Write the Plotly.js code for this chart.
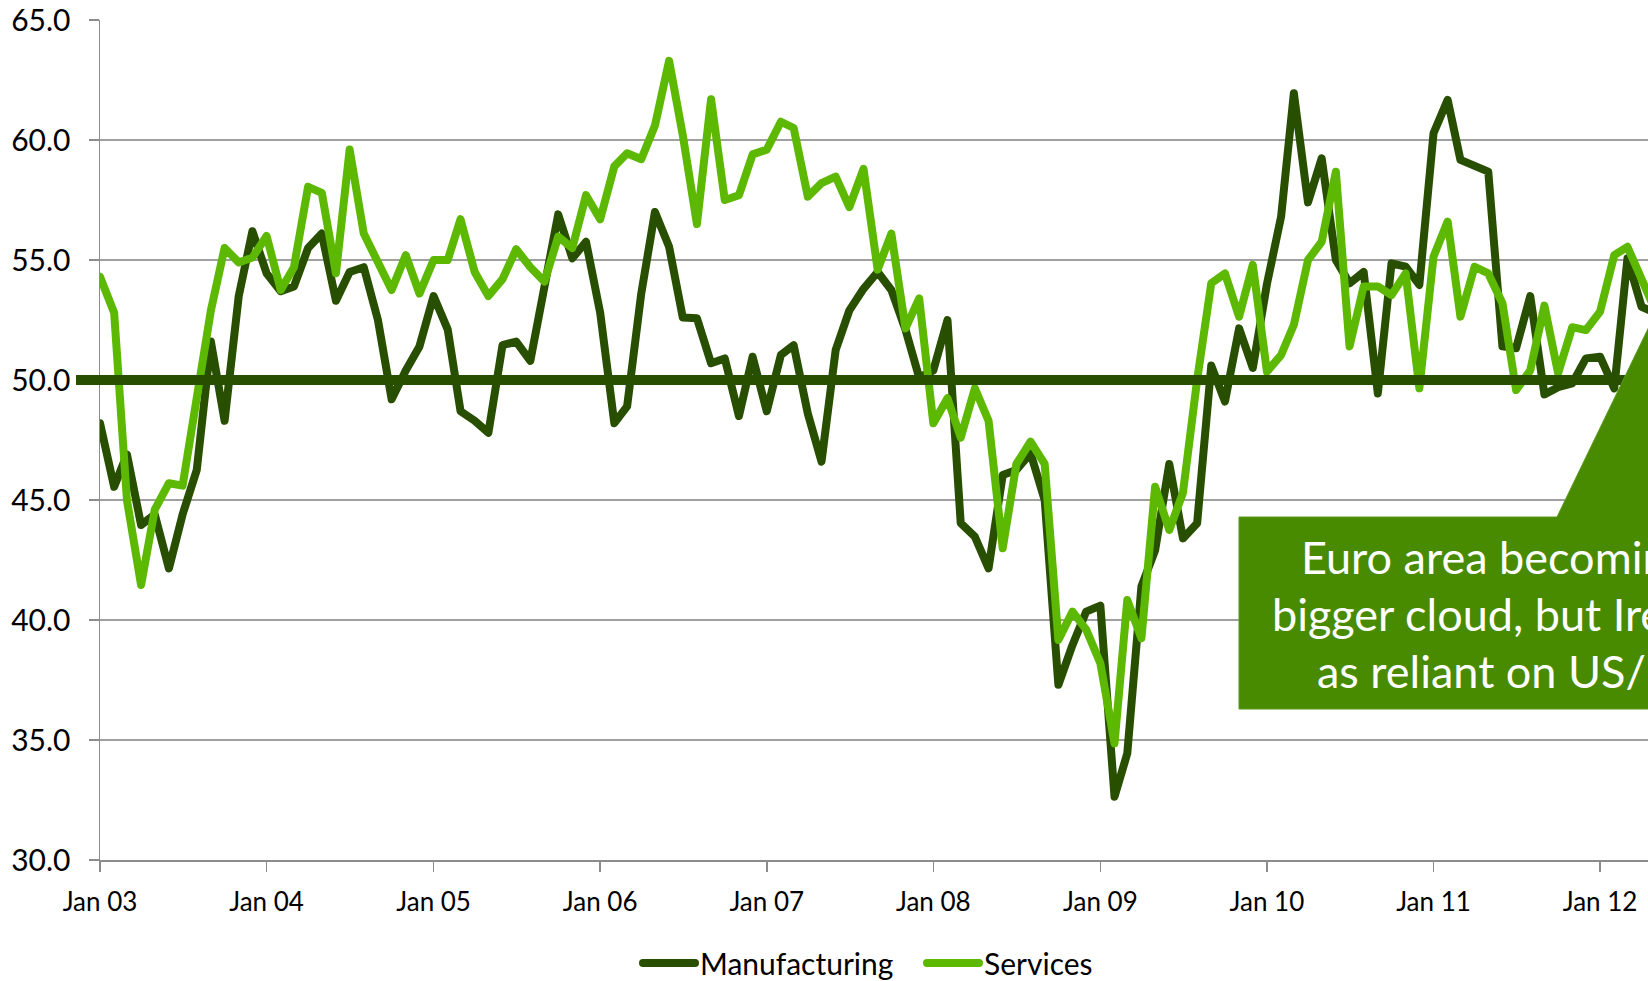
<!DOCTYPE html>
<html>
<head>
<meta charset="utf-8">
<script src="https://cdn.plot.ly/plotly-3.0.1.min.js"></script>
<style>
  html, body { margin: 0; padding: 0; background: #fff; overflow: hidden; }
  #chart { width: 1648px; height: 981px; }
  .scatterlayer path.js-line { stroke-linejoin: round; stroke-linecap: round; }
  .legendlines path { stroke-linecap: round; }
</style>
</head>
<body>
<div id="chart"></div>
<script>
// ---- data (monthly, Jan 2003 onwards) ----
const startYear = 2003;
const manufacturing = [
  48.2, 45.55, 46.9, 43.96, 44.4, 42.15, 44.4, 46.25, 51.6, 48.3, 53.5, 56.2,
  54.45, 53.7, 53.9, 55.5, 56.1, 53.3, 54.5, 54.7, 52.5, 49.2, 50.4, 51.4,
  53.5, 52.1, 48.7, 48.3, 47.8, 51.45, 51.6, 50.8, 53.9, 56.9, 55.07, 55.76,
  52.8, 48.2, 48.9, 53.6, 57.0, 55.55, 52.6, 52.57, 50.7, 50.9, 48.5, 50.97,
  48.7, 51.04, 51.45, 48.6, 46.6, 51.25, 52.9, 53.8, 54.5, 53.75, 52.1, 50.1,
  50.4, 52.5, 44.04, 43.47, 42.15, 46.04, 46.25, 46.95, 45.0, 37.3, 38.96, 40.35,
  40.6, 32.64, 34.44, 41.4, 42.9, 46.5, 43.4, 44.03, 50.6, 49.1, 52.15, 50.5,
  54.0, 56.8, 61.95, 57.4, 59.24, 55.0, 54.03, 54.5, 49.44, 54.86, 54.72, 53.96,
  60.28, 61.67, 59.17, 58.96, 58.68, 51.4, 51.32, 53.5, 49.4, 49.7, 49.86, 50.9,
  50.97, 49.65, 55.07, 53.05, 52.8
];
const services = [
  54.3, 52.8, 45.0, 41.46, 44.6, 45.7, 45.6, 49.5, 52.9, 55.5, 54.9, 55.1,
  56.0, 53.75, 54.7, 58.05, 57.8, 54.45, 59.6, 56.1, 54.9, 53.75, 55.2, 53.6,
  55.0, 55.0, 56.7, 54.5, 53.5, 54.2, 55.45, 54.7, 54.1, 55.97, 55.5, 57.7,
  56.7, 58.9, 59.45, 59.2, 60.6, 63.3, 60.2, 56.5, 61.7, 57.5, 57.7, 59.4,
  59.6, 60.76, 60.5, 57.64, 58.2, 58.47, 57.2, 58.8, 54.6, 56.1, 52.15, 53.4,
  48.2, 49.24, 47.6, 49.65, 48.3, 42.99, 46.5, 47.43, 46.5, 39.17, 40.35, 39.6,
  38.2, 34.86, 40.83, 39.24, 45.55, 43.75, 45.3, 50.0, 54.03, 54.44, 52.64, 54.8,
  50.35, 51.04, 52.3, 55.0, 55.76, 58.68, 51.4, 53.9, 53.9, 53.54, 54.44, 49.65,
  55.14, 56.6, 52.64, 54.72, 54.44, 53.2, 49.58, 50.4, 53.1, 50.28, 52.2, 52.08,
  52.85, 55.2, 55.55, 54.3, 52.9
];
const tickLabels = ["Jan 03","Jan 04","Jan 05","Jan 06","Jan 07","Jan 08","Jan 09","Jan 10","Jan 11","Jan 12"];
const tickDates = ["2003-01-01","2004-01-01","2005-01-01","2006-01-01","2007-01-01",
                   "2008-01-01","2009-01-01","2010-01-01","2011-01-01","2012-01-01"];
const yTicks = [30, 35, 40, 45, 50, 55, 60, 65];
const threshold = 50;
const seriesNames = ["Manufacturing", "Services"];
const calloutLines = ["Euro area becoming a", "bigger cloud, but Ireland not", "as reliant on US/UK"];

// month categories
const months = manufacturing.map((_, i) => {
  const y = startYear + Math.floor(i / 12);
  const m = (i % 12) + 1;
  return y + "-" + String(m).padStart(2, "0") + "-01";
});

// ---- layout geometry (pixels) ----
const W = 1648, H = 981;
const L = 100, T = 20, B = 121, R = 0;
const plotW = W - L - R, plotH = H - T - B;
const px = x => (x - L) / plotW;      // pixel -> paper x
const py = y => (H - B - y) / plotH;  // pixel -> paper y

const darkGreen = "#284F00";
const lightGreen = "#5CB800";
const boxGreen = "#488A00";
const FONT = "Lato, 'Open Sans', sans-serif";

const traces = [
  { x: months, y: manufacturing, name: seriesNames[0], type: "scatter", mode: "lines",
    line: { color: darkGreen, width: 8 }, hoverinfo: "skip" },
  { x: months, y: services, name: seriesNames[1], type: "scatter", mode: "lines",
    line: { color: lightGreen, width: 8 }, hoverinfo: "skip" }
];

const calloutPath = [
  [1239, 517], [1557, 517], [1760, 97], [1700, 517], [1760, 517], [1760, 709], [1239, 709]
].map((p, i) => (i ? "L" : "M") + px(p[0]).toFixed(5) + "," + py(p[1]).toFixed(5)).join(" ") + " Z";

const lineStarts = [[1299, 557], [1270, 614], [1315, 671]];

const layout = {
  width: W, height: H,
  margin: { l: L, r: R, t: T, b: B, pad: 0, autoexpand: false },
  paper_bgcolor: "#ffffff", plot_bgcolor: "#ffffff",
  font: { family: FONT, color: "#000000", size: 26 },
  showlegend: true,
  legend: {
    orientation: "h", x: px(638), xanchor: "left", y: py(963), yanchor: "middle",
    font: { family: FONT, size: 30, color: "#000" }, itemwidth: 52,
    entrywidth: 217, entrywidthmode: "pixels",
    tracegroupgap: 0, bgcolor: "rgba(0,0,0,0)"
  },
  xaxis: {
    type: "date",
    range: ["2003-01-01", "2012-04-15"],
    tickvals: tickDates, ticktext: tickLabels,
    ticks: "outside", ticklen: 10, tickwidth: 1.5, tickcolor: "#8c8c8c",
    showline: true, linecolor: "#8c8c8c", linewidth: 1.5,
    showgrid: false, zeroline: false,
    tickfont: { family: FONT, size: 26, color: "#000" },
    ticklabelstandoff: 8
  },
  yaxis: {
    range: [30, 65],
    tickvals: yTicks, ticktext: yTicks.map(v => v.toFixed(1)),
    ticks: "outside", ticklen: 10, tickwidth: 1.5, tickcolor: "#8c8c8c",
    showline: true, linecolor: "#8c8c8c", linewidth: 1.5,
    showgrid: true, gridcolor: "#a0a0a0", gridwidth: 1.5,
    zeroline: false,
    tickfont: { family: FONT, size: 30, color: "#000" },
    ticklabelstandoff: 12
  },
  shapes: [
    { type: "line", xref: "paper", yref: "y", x0: px(76), x1: 1.05, y0: threshold, y1: threshold,
      line: { color: darkGreen, width: 10 }, layer: "above" },
    { type: "path", xref: "paper", yref: "paper", path: calloutPath,
      fillcolor: boxGreen, line: { color: "#5a9a1a", width: 1 }, layer: "above" }
  ],
  annotations: calloutLines.map((t, i) => ({
    text: t, xref: "paper", yref: "paper",
    x: px(lineStarts[i][0]), y: py(lineStarts[i][1]),
    xanchor: "left", yanchor: "middle", showarrow: false,
    font: { family: FONT, size: 45, color: "#ffffff" }
  }))
};

Plotly.newPlot("chart", traces, layout, { displayModeBar: false, staticPlot: true });
</script>
</body>
</html>
